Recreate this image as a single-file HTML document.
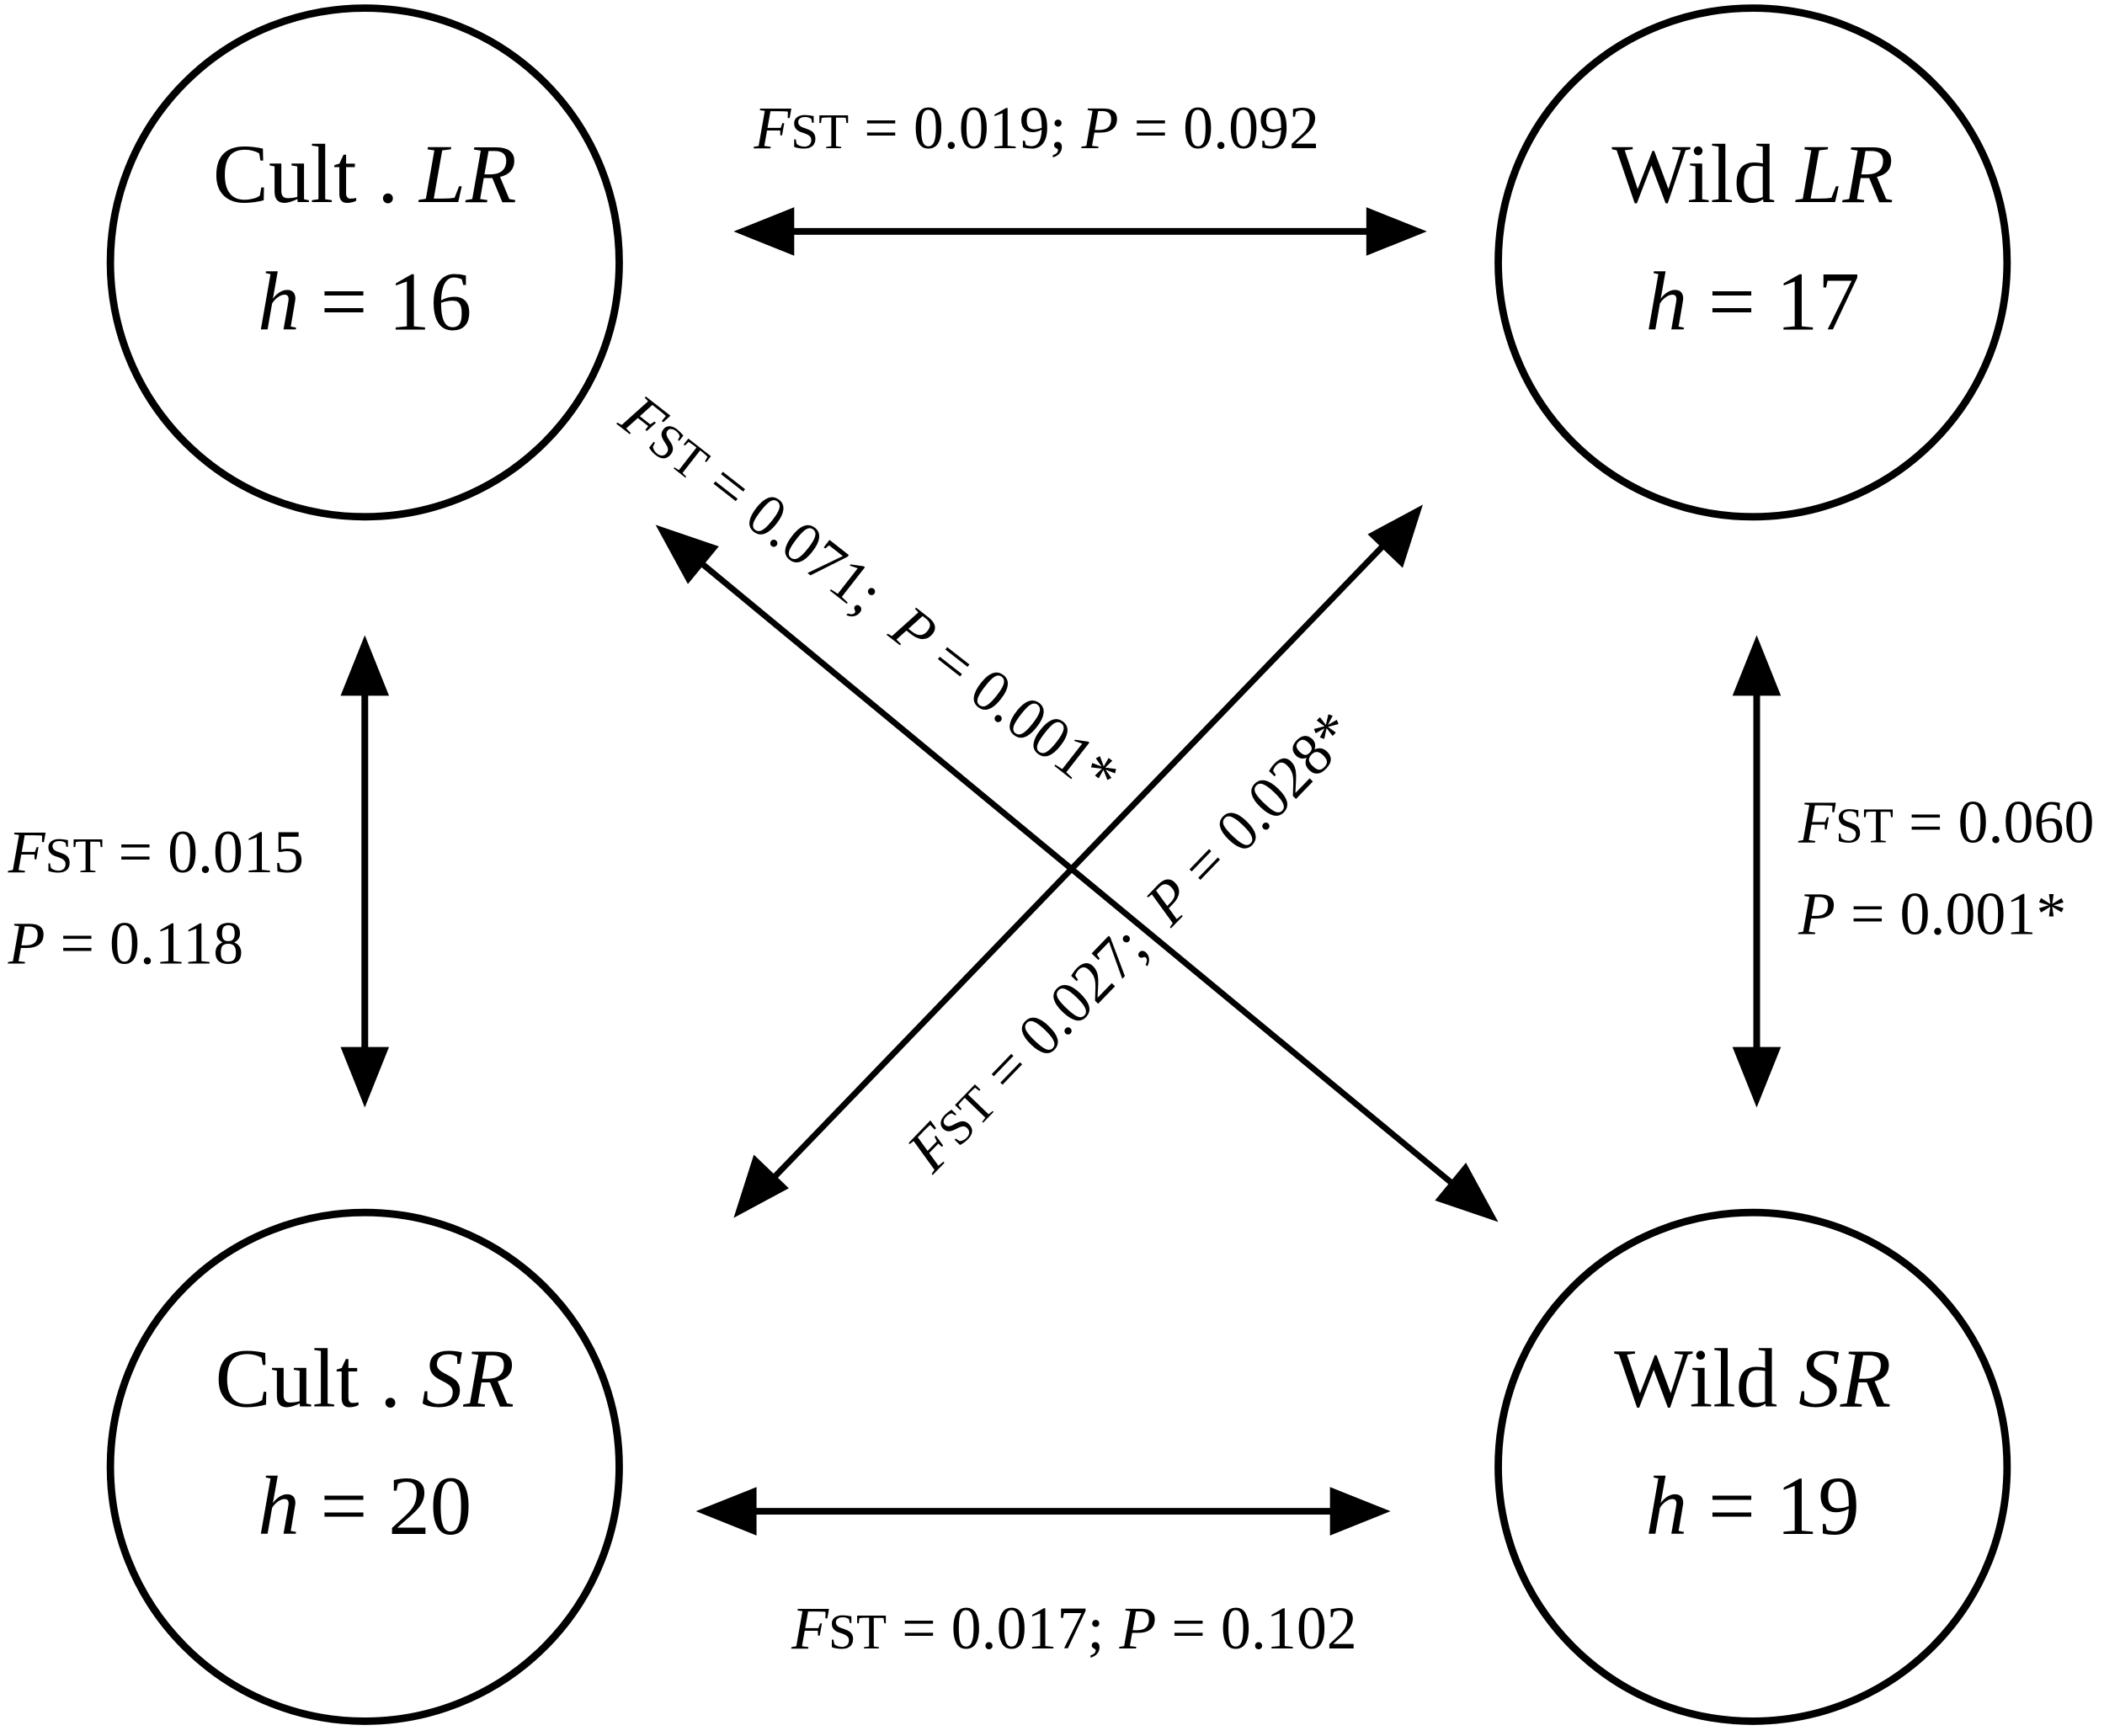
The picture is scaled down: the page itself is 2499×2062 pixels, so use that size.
<!DOCTYPE html>
<html><head><meta charset="utf-8"><style>
html,body{margin:0;padding:0;background:#fff;}
svg{display:block;}
text{font-family:"Liberation Serif",serif;fill:#000;}
</style></head><body>
<svg width="2499" height="2062" viewBox="0 0 1563 1290" preserveAspectRatio="none" xmlns="http://www.w3.org/2000/svg">
<g fill="none" stroke="#000" stroke-width="5.5">
<circle cx="271" cy="195" r="189"/>
<circle cx="1302" cy="195" r="189"/>
<circle cx="271" cy="1090" r="189"/>
<circle cx="1302" cy="1090" r="189"/>
</g>
<g stroke="#000" stroke-width="5">
<line x1="585" y1="172" x2="1020" y2="172"/>
<line x1="557" y1="1123" x2="993" y2="1123"/>
<line x1="271" y1="512" x2="271" y2="783"/>
<line x1="1305" y1="512" x2="1305" y2="783"/>
<line x1="518" y1="416" x2="1082" y2="882" stroke-width="4.5"/>
<line x1="1030" y1="403" x2="573" y2="877" stroke-width="4.5"/>
</g>
<g fill="#000">
<polygon points="545,172 590,154 590,190"/>
<polygon points="1060,172 1015,154 1015,190"/>
<polygon points="517,1123 562,1105 562,1141"/>
<polygon points="1033,1123 988,1105 988,1141"/>
<polygon points="271,472 253,517 289,517"/>
<polygon points="271,823 253,778 289,778"/>
<polygon points="1305,472 1287,517 1323,517"/>
<polygon points="1305,823 1287,778 1323,778"/>
<polygon points="487,390 534,406 511,434"/>
<polygon points="1113,908 1066,892 1089,864"/>
<polygon points="1057,375 1042,422 1016,397"/>
<polygon points="545,905 560,858 586,883"/>
</g>
<g font-size="62" text-anchor="middle">
<text x="271" y="150">Cult . <tspan font-style="italic">LR</tspan></text>
<text x="271" y="245"><tspan font-style="italic">h</tspan> = 16</text>
<text x="1302" y="150">Wild <tspan font-style="italic">LR</tspan></text>
<text x="1302" y="245"><tspan font-style="italic">h</tspan> = 17</text>
<text x="271" y="1045">Cult . <tspan font-style="italic">SR</tspan></text>
<text x="271" y="1140"><tspan font-style="italic">h</tspan> = 20</text>
<text x="1302" y="1045">Wild <tspan font-style="italic">SR</tspan></text>
<text x="1302" y="1140"><tspan font-style="italic">h</tspan> = 19</text>
</g>
<g font-size="45">
<text x="560" y="110"><tspan font-style="italic">F</tspan><tspan font-size="37">ST</tspan> = 0.019; <tspan font-style="italic">P</tspan> = 0.092</text>
<text x="588" y="1225"><tspan font-style="italic">F</tspan><tspan font-size="37">ST</tspan> = 0.017; <tspan font-style="italic">P</tspan> = 0.102</text>
<text x="6" y="648"><tspan font-style="italic">F</tspan><tspan font-size="37">ST</tspan> = 0.015</text>
<text x="6" y="716"><tspan font-style="italic">P</tspan> = 0.118</text>
<text x="1336" y="626"><tspan font-style="italic">F</tspan><tspan font-size="37">ST</tspan> = 0.060</text>
<text x="1336" y="694"><tspan font-style="italic">P</tspan> = 0.001*</text>
<text transform="translate(458,315) rotate(38)" xml:space="preserve"><tspan font-style="italic">F</tspan><tspan font-size="37">ST</tspan> = 0.071;  <tspan font-style="italic">P</tspan> = 0.001*</text>
<text transform="translate(693,873) rotate(-46)" xml:space="preserve"><tspan font-style="italic">F</tspan><tspan font-size="37">ST</tspan> = 0.027;  <tspan font-style="italic">P</tspan> = 0.028*</text>
</g>
</svg>
</body></html>
